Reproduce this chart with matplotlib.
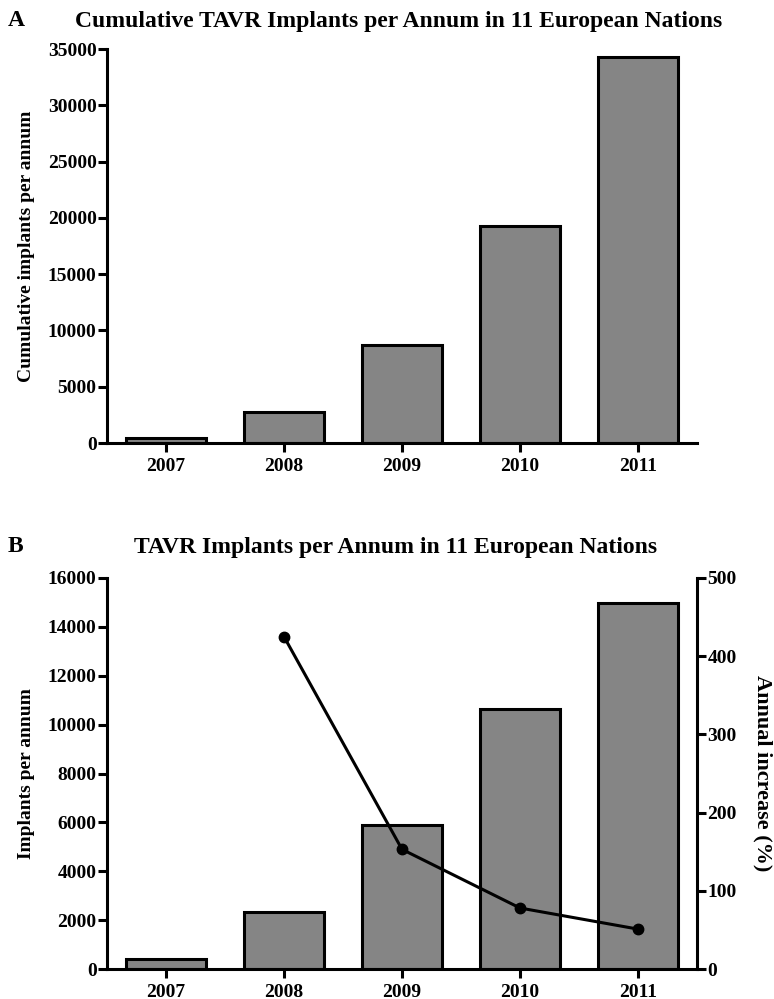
import matplotlib.pyplot as plt
import numpy as np

# Datos de implantes TAVR
years = ['2007', '2008', '2009', '2010', '2011']
cumulative = [400, 2730, 8680, 19320, 34270]
per_annum = [420, 2340, 5900, 10650, 14970]
increase_years = ['2008', '2009', '2010', '2011']
annual_increase = [425, 153, 78, 51]

plt.rcParams['font.family'] = ['Liberation Serif', 'DejaVu Serif']
plt.rcParams['font.weight'] = 'bold'

bar_color = '#858585'
lw = 2.2
fs_tick = 14
fs_label = 14
fs_title = 17

fig = plt.figure(figsize=(7.74, 9.99), dpi=100)


def style_axis(ax):
    ax.spines['top'].set_visible(False)
    ax.spines['right'].set_visible(False)
    ax.spines['left'].set_linewidth(lw)
    ax.spines['bottom'].set_linewidth(lw)
    ax.tick_params(axis='both', width=lw, length=6.5, labelsize=fs_tick, pad=1)
    ax.tick_params(axis='x', pad=4)
    for lab in ax.get_xticklabels() + ax.get_yticklabels():
        lab.set_fontweight('bold')


# Panel A: acumulado
axA = fig.add_axes([107 / 774, 1 - 443 / 999, 590 / 774, 394 / 999])
x = np.arange(len(years))
axA.bar(x, cumulative, width=0.68, color=bar_color, edgecolor='black', linewidth=lw)
axA.set_xlim(-0.5, 4.5)
axA.set_ylim(0, 35000)
axA.set_yticks(np.arange(0, 35001, 5000))
axA.set_xticks(x)
axA.set_xticklabels(years)
style_axis(axA)
axA.set_ylabel('Cumulative implants per annum', fontsize=fs_label, fontweight='bold', labelpad=9)
fig.text(399 / 774, 1 - 21 / 999, 'Cumulative TAVR Implants per Annum in 11 European Nations',
         ha='center', va='center', fontsize=fs_title, fontweight='bold')
fig.text(8 / 774, 1 - 21 / 999, 'A', ha='left', va='center', fontsize=fs_title, fontweight='bold')

# Panel B: por año + incremento anual
axB = fig.add_axes([107 / 774, 1 - 969 / 999, 590 / 774, 391 / 999])
axB.bar(x, per_annum, width=0.68, color=bar_color, edgecolor='black', linewidth=lw)
axB.set_xlim(-0.5, 4.5)
axB.set_ylim(0, 16000)
axB.set_yticks(np.arange(0, 16001, 2000))
axB.set_xticks(x)
axB.set_xticklabels(years)
style_axis(axB)
axB.set_ylabel('Implants per annum', fontsize=fs_label, fontweight='bold', labelpad=9)

axR = axB.twinx()
xi = [years.index(y) for y in increase_years]
axR.plot(xi, annual_increase, color='black', linewidth=lw, marker='o', markersize=7.5)
axR.set_ylim(0, 500)
axR.set_yticks(np.arange(0, 501, 100))
for s in ['top', 'left', 'bottom']:
    axR.spines[s].set_visible(False)
axR.spines['right'].set_linewidth(lw)
axR.tick_params(axis='y', width=lw, length=6.5, labelsize=fs_tick, pad=1)
for lab in axR.get_yticklabels():
    lab.set_fontweight('bold')
axR.set_ylabel('Annual increase (%)', fontsize=16, fontweight='bold', rotation=270,
               labelpad=26)
fig.text(396 / 774, 1 - 548 / 999, 'TAVR Implants per Annum in 11 European Nations',
         ha='center', va='center', fontsize=fs_title, fontweight='bold')
fig.text(8 / 774, 1 - 547 / 999, 'B', ha='left', va='center', fontsize=fs_title, fontweight='bold')

fig.savefig('out.png', dpi=100)
